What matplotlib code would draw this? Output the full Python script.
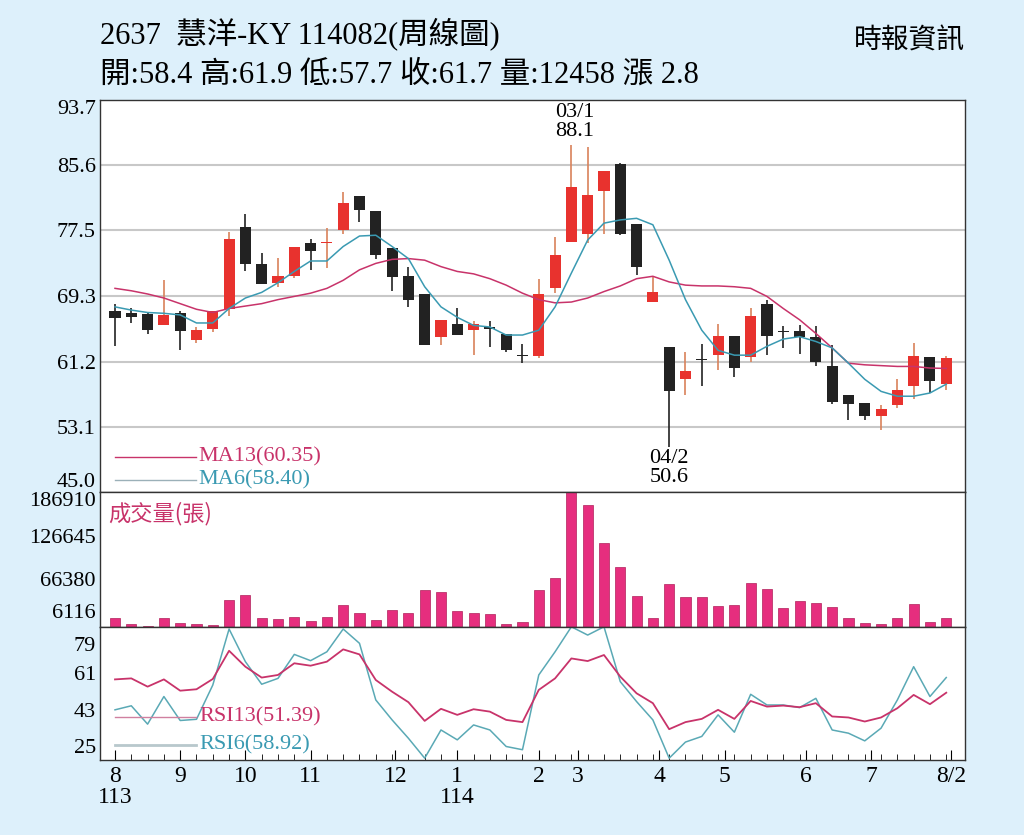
import matplotlib
matplotlib.use("Agg")
import matplotlib.pyplot as plt
import numpy as np

# weekly OHLC, 2024/08 .. 2025/08
opens = [67.5, 67.2, 67.1, 65.7, 67.2, 63.9, 65.3, 67.7, 77.9, 73.3, 71.0, 71.8, 75.9, 75.9,
         77.6, 81.8, 79.9, 75.3, 71.8, 69.6, 64.3, 65.9, 65.1, 65.4, 64.6, 61.95, 61.9, 70.3,
         76.0, 77.0, 82.4, 85.8, 78.3, 68.6, 63.0, 59.1, 61.5, 62.0, 64.4, 61.8, 68.4, 64.95,
         65.0, 64.2, 60.7, 57.05, 56.1, 54.5, 55.8, 58.2, 61.8, 58.4]
highs = [68.4, 67.9, 67.2, 71.3, 67.5, 65.5, 67.5, 77.3, 79.5, 74.7, 74.1, 75.4, 76.4, 77.8,
         82.3, 81.8, 79.9, 75.3, 73.0, 69.6, 66.4, 67.8, 66.2, 66.2, 64.6, 63.4, 71.5, 76.7,
         88.1, 87.9, 84.9, 85.9, 78.3, 71.7, 63.0, 62.4, 63.4, 65.9, 64.4, 67.8, 68.9, 65.6,
         65.7, 65.6, 63.3, 57.05, 56.1, 55.8, 59.1, 63.5, 61.8, 61.9]
lows = [63.1, 66.0, 64.6, 65.7, 62.6, 63.5, 64.9, 66.9, 72.4, 70.9, 70.5, 71.6, 72.6, 72.8,
        77.1, 78.5, 74.0, 70.0, 68.0, 63.3, 63.3, 64.5, 62.0, 63.0, 62.4, 61.0, 61.6, 69.7,
        76.0, 75.9, 77.1, 76.9, 72.0, 68.6, 50.6, 57.0, 58.2, 60.1, 59.3, 61.2, 62.0, 62.9,
        62.2, 60.6, 55.9, 53.9, 54.0, 52.7, 55.4, 56.6, 57.3, 57.7]
closes = [66.6, 66.8, 65.1, 67.0, 65.0, 65.1, 67.5, 76.4, 73.3, 70.9, 71.8, 75.4, 75.0, 76.0,
          80.9, 80.0, 74.4, 71.7, 68.9, 63.3, 66.4, 64.5, 65.9, 65.3, 62.6, 61.9, 69.6, 74.4,
          82.9, 81.9, 84.9, 77.1, 73.0, 69.9, 57.5, 60.0, 61.4, 64.4, 60.4, 66.9, 64.4, 64.9,
          64.2, 61.1, 56.2, 55.9, 54.4, 55.3, 57.7, 61.9, 58.8, 61.7]
ma13 = [70.3, 70.0, 69.6, 69.1, 68.4, 67.7, 67.3, 67.8, 68.1, 68.4, 68.9, 69.3, 69.7, 70.3,
        71.3, 72.6, 73.4, 73.9, 74.0, 73.8, 73.0, 72.4, 72.1, 71.5, 70.7, 69.7, 68.9, 68.5,
        68.6, 69.1, 69.9, 70.6, 71.5, 71.8, 71.1, 70.7, 70.6, 70.6, 70.5, 70.3, 69.3, 67.8,
        66.4, 64.7, 62.9, 61.0, 60.8, 60.7, 60.6, 60.6, 60.4, 60.35]
ma6 = [68.0, 67.6, 67.3, 67.2, 67.0, 66.0, 66.0, 67.8, 69.1, 69.8, 71.0, 72.4, 73.7, 73.7,
       75.5, 76.8, 76.9, 75.5, 74.0, 70.5, 68.0, 66.7, 65.7, 65.5, 64.5, 64.5, 65.1, 68.0,
       72.2, 76.3, 78.4, 78.8, 79.0, 78.2, 73.8, 68.9, 65.1, 62.6, 62.0, 62.0, 63.1, 64.0,
       64.3, 63.7, 62.9, 61.0, 59.0, 57.5, 56.9, 56.9, 57.3, 58.4]
volume = [12210, 3757, 1500, 12210, 6100, 4700, 2800, 37570, 43670, 13150, 10800, 14090, 8450,
          14090, 30520, 18780, 9860, 23480, 18780, 51660, 47900, 22540, 18780, 17840, 4700, 7040,
          51660, 67620, 186910, 169060, 116460, 83590, 43200, 12210, 60110, 41320, 41320, 29120,
          30050, 61520, 53070, 26300, 36620, 32870, 28180, 12210, 5630, 3760, 13150, 31930, 7510,
          12458]
rsi13 = [58.0, 58.5, 54.4, 58.0, 52.4, 53.1, 58.2, 72.2, 64.3, 58.9, 60.2, 66.0, 64.8, 66.8,
         72.9, 70.4, 57.7, 51.9, 46.7, 37.4, 43.4, 40.4, 43.2, 42.0, 37.9, 36.8, 52.8, 58.5,
         68.4, 67.1, 70.1, 59.4, 51.1, 46.2, 33.3, 36.8, 38.4, 42.9, 38.4, 47.3, 44.5, 45.0,
         44.2, 46.2, 39.6, 39.1, 37.1, 39.1, 43.7, 50.3, 45.7, 51.39]
rsi6 = [42.9, 44.9, 35.8, 49.5, 37.6, 38.2, 55.2, 83.0, 66.8, 55.6, 58.5, 70.4, 67.3, 71.7,
        83.0, 75.9, 47.8, 37.9, 28.8, 18.9, 32.9, 28.0, 35.4, 32.9, 24.7, 23.1, 60.2, 71.7,
        84.1, 80.0, 84.1, 56.9, 47.0, 37.9, 18.9, 26.9, 29.7, 40.4, 31.8, 50.6, 45.3, 45.3,
        44.0, 48.6, 32.9, 31.3, 27.5, 33.8, 47.8, 64.3, 49.5, 58.92]

price_ticks = [45.0, 53.1, 61.2, 69.3, 77.5, 85.6, 93.7]
vol_ticks = [6116, 66380, 126645, 186910]
rsi_ticks = [25, 43, 61, 79]
month_pos = [0, 4, 8, 12, 17.2, 21, 26, 28.4, 33.4, 37.4, 42.4, 46.4, 51.3]
month_labels = ["8\n113", "9", "10", "11", "12", "1\n114", "2", "3", "4", "5", "6", "7", "8/2"]

SERIF = ["Liberation Serif", "Noto Sans CJK TC"]
plt.rcParams["font.family"] = SERIF

RED = "#e8322e"
BLACK = "#222222"
PINK = "#c8336a"
TEAL = "#3a9ab2"
VOLC = "#e62e7e"
BG = "#ddf0fb"

fig = plt.figure(figsize=(10.24, 8.35), dpi=100, facecolor=BG)
W, H = 1024, 835
L, R = 100 / W, 965 / W


def box(top, bottom):
    return [L, 1 - bottom / H, R - L, (bottom - top) / H]


ax_p = fig.add_axes(box(100, 492))
ax_v = fig.add_axes(box(492, 627))
ax_r = fig.add_axes(box(627, 760))

x = np.arange(len(closes))
xlim = (-0.92, 52.15)

# price panel
for t in price_ticks[1:-1]:
    ax_p.axhline(t, color="#c8c8c8", lw=1.5, zorder=0)
for i in x:
    up = closes[i] >= opens[i]
    c = RED if up else BLACK
    wc = "#d9825a" if up else BLACK
    ax_p.vlines(i, lows[i], highs[i], color=wc, lw=1.2, zorder=2)
    lo, hi = min(opens[i], closes[i]), max(opens[i], closes[i])
    ax_p.bar(i, max(hi - lo, 0.15), bottom=lo, width=0.68, color=c, zorder=3)
ax_p.plot(x, ma13, color=PINK, lw=1.1, zorder=4)
ax_p.plot(x, ma6, color=TEAL, lw=1.1, zorder=4)
ax_p.set_ylim(45.0, 93.7)
ax_p.set_yticks(price_ticks)
ax_p.set_yticklabels([f"{t:.1f}" for t in price_ticks])
ylabs = ax_p.get_yticklabels()
ylabs[0].set_va("bottom")
ylabs[-1].set_va("top")
ax_p.text(28.2, 88.6, "03/1\n88.1", ha="center", va="bottom", fontsize=16, linespacing=1.0)
ax_p.text(34, 50.3, "04/2\n50.6", ha="center", va="top", fontsize=16, linespacing=1.0,
          clip_on=False, zorder=6)
ax_p.plot([0, 5], [49.4, 49.4], color=PINK, lw=1)
ax_p.text(5.1, 49.4, "MA13(60.35)", color=PINK, fontsize=16, va="center")
ax_p.plot([0, 5], [46.5, 46.5], color="#9bb0b8", lw=1)
ax_p.text(5.1, 46.5, "MA6(58.40)", color=TEAL, fontsize=16, va="center")

# volume panel
ax_v.bar(x, volume, width=0.62, color=VOLC, edgecolor="#b0205a", lw=0.5)
ax_v.set_ylim(0, 186910)
ax_v.set_yticks(vol_ticks)
ax_v.set_yticklabels([str(t) for t in vol_ticks])
vlabs = ax_v.get_yticklabels()
vlabs[0].set_va("bottom")
vlabs[-1].set_va("top")
ax_v.text(0.01, 0.93, "成交量(張)", transform=ax_v.transAxes, color=PINK, fontsize=16,
          va="top", family=["Noto Sans CJK TC"])

# rsi panel
ax_r.plot(x, rsi6, color="#5aa9b5", lw=1.1)
ax_r.plot(x, rsi13, color=PINK, lw=1.3)
ax_r.set_ylim(18, 84)
ax_r.set_yticks(rsi_ticks)
ax_r.get_yticklabels()[-1].set_va("top")
ax_r.plot([0, 5], [39.5, 39.5], color="#d080a0", lw=1)
ax_r.text(5.2, 39.5, "RSI13(51.39)", color=PINK, fontsize=16, va="center")
ax_r.plot([0, 5], [25.5, 25.5], color="#b8c8cc", lw=2)
ax_r.text(5.2, 25.5, "RSI6(58.92)", color=TEAL, fontsize=16, va="center")
ax_r.set_xticks(month_pos)
ax_r.set_xticklabels(month_labels, fontsize=17, linespacing=1.0, va="top")
ax_r.set_xticks(x, minor=True)
ax_r.tick_params(axis="x", which="major", direction="in", length=7, pad=4)
ax_r.tick_params(axis="x", which="minor", direction="in", length=4)

for ax in (ax_p, ax_v, ax_r):
    ax.set_xlim(*xlim)
    ax.set_facecolor("white")
    ax.tick_params(axis="y", labelsize=16, length=0, pad=3)
    for s in ax.spines.values():
        s.set_color("#333333")
        s.set_linewidth(1)
for ax in (ax_p, ax_v):
    ax.set_xticks([])

fig.text(100 / W, 1 - 50 / H, "2637  慧洋-KY 114082(周線圖)", fontsize=22, va="bottom")
fig.text(100 / W, 1 - 90 / H, "開:58.4 高:61.9 低:57.7 收:61.7 量:12458 漲 2.8",
         fontsize=22, va="bottom")
fig.text(965 / W, 1 - 56 / H, "時報資訊", fontsize=20, ha="right", va="bottom",
         family=["Noto Sans CJK TC"])

fig.savefig("out.png", dpi=100, facecolor=BG)
